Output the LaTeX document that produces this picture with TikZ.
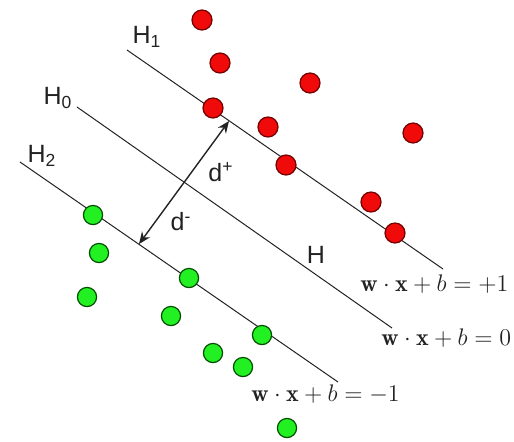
\documentclass[tikz,border=0pt]{standalone}
\usepackage{fontspec}
\usepackage{tikz}
\usepackage{xcolor}
\usetikzlibrary{arrows.meta, positioning}
\newfontfamily\labelfont{Liberation Sans}
\definecolor{dotred}{HTML}{F00A0A}
\definecolor{dotgreen}{HTML}{22F022}
\definecolor{inkgray}{HTML}{222222}

\begin{document}
\begin{tikzpicture}[
  x=0.5pt, y=-0.5pt,
  reddot/.style={circle, draw=red!45!black, fill=dotred, line width=0.6pt, minimum size=10pt, inner sep=0pt},
  greendot/.style={circle, draw=green!30!black, fill=dotgreen, line width=0.6pt, minimum size=9.6pt, inner sep=0pt},
  plane/.style={draw=inkgray, line width=0.5pt},
  lbl/.style={text=inkgray, font=\labelfont\fontsize{12.5}{14}\selectfont, inner sep=0pt},
  eq/.style={text=inkgray, font=\fontsize{12}{14}\selectfont, inner sep=0pt, anchor=west},
  arrow/.style={{Stealth[length=6pt, width=5pt]}-{Stealth[length=6pt, width=5pt]}, draw=inkgray, line width=0.7pt}
]
  \useasboundingbox (0,0) rectangle (514,441);

  % hyperplanes
  \coordinate (h1a) at (127,50);  \coordinate (h1b) at (443,269);
  \coordinate (h0a) at (77,107);  \coordinate (h0b) at (392,328);
  \coordinate (h2a) at (20,162);  \coordinate (h2b) at (338,382);
  \draw[plane] (h1a) -- (h1b);
  \draw[plane] (h0a) -- (h0b);
  \draw[plane] (h2a) -- (h2b);

  % margin
  \coordinate (dtop) at (229,121);
  \coordinate (dbot) at (139,244);
  \draw[arrow] (dbot) -- (dtop);

  % positive class
  \node[reddot] (p1) at (202,20) {};
  \node[reddot] (p2) at (220,63) {};
  \node[reddot] (p3) at (213,108) {};
  \node[reddot] (p4) at (310,83) {};
  \node[reddot] (p5) at (268,127) {};
  \node[reddot] (p6) at (286,165) {};
  \node[reddot] (p7) at (413,133) {};
  \node[reddot] (p8) at (371,202) {};
  \node[reddot] (p9) at (395,233) {};

  % negative class
  \node[greendot] (n1) at (93,215) {};
  \node[greendot] (n2) at (99,253) {};
  \node[greendot] (n3) at (87,297) {};
  \node[greendot] (n4) at (189,278) {};
  \node[greendot] (n5) at (171,316) {};
  \node[greendot] (n6) at (262,335) {};
  \node[greendot] (n7) at (213,353) {};
  \node[greendot] (n8) at (243,367) {};
  \node[greendot] (n9) at (287,428) {};

  % labels
  \node[lbl] (lh1) at (147,37) {H\textsubscript{1}};
  \node[lbl] (lh0) at (58,98) {H\textsubscript{0}};
  \node[lbl] (lh2) at (42,156) {H\textsubscript{2}};
  \node[lbl] (lh) at (316,255) {H};
  \node[lbl] (ldp) at (221,172) {d\textsuperscript{+}};
  \node[lbl] (ldm) at (181,222) {d\textsuperscript{-}};
  \node[eq] (e1) at (360,284) {$\mathbf{w}\cdot\mathbf{x}+b=+1$};
  \node[eq] (e0) at (381,338) {$\mathbf{w}\cdot\mathbf{x}+b=0$};
  \node[eq] (em) at (251,394) {$\mathbf{w}\cdot\mathbf{x}+b=-1$};
\end{tikzpicture}
\end{document}
